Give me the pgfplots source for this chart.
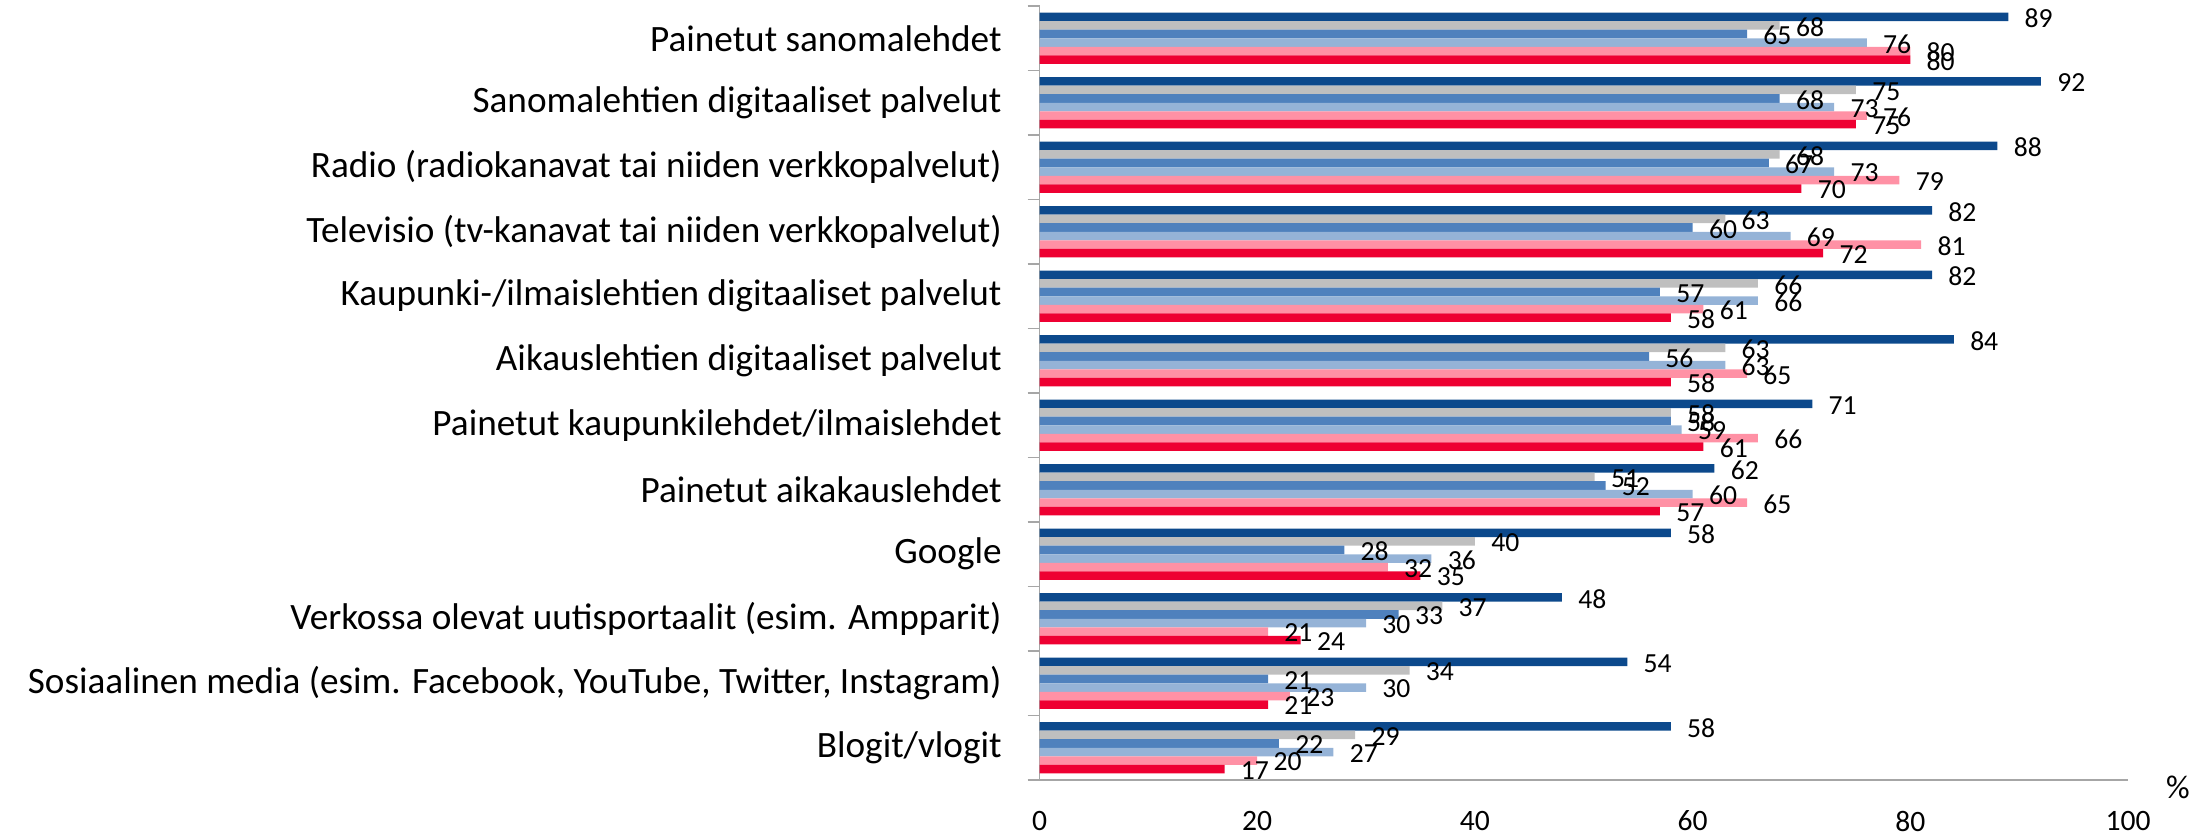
\documentclass[border=0pt]{standalone}
\usepackage{pgfplots}
\usepackage{pgfplotstable}
\pgfplotsset{compat=1.18}
\usepackage{fontspec}
\setmainfont{Carlito}
\definecolor{cDark}{RGB}{12,73,140}
\definecolor{cGray}{RGB}{191,191,191}
\definecolor{cMed}{RGB}{79,129,189}
\definecolor{cLight}{RGB}{149,179,215}
\definecolor{cPink}{RGB}{255,145,165}
\definecolor{cRed}{RGB}{238,0,50}
\pgfplotstableread{
y s0 s1 s2 s3 s4 s5
11 89 68 65 76 80 80
10 92 75 68 73 76 75
9 88 68 67 73 79 70
8 82 63 60 69 81 72
7 82 66 57 66 61 58
6 84 63 56 63 65 58
5 71 58 58 59 66 61
4 62 51 52 60 65 57
3 58 40 28 36 32 35
2 48 37 33 30 21 24
1 54 34 21 30 23 21
0 58 29 22 27 20 17
}\datatable
\begin{document}
\begin{tikzpicture}
\useasboundingbox (0,0) rectangle (1105pt,418.5pt);
\begin{axis}[
  at={(519.75pt,28.5pt)}, anchor=south west,
  scale only axis, width=544.25pt, height=387pt,
  xbar, bar width=0.132,
  xmin=0, xmax=100, ymin=-0.5, ymax=11.5,
  enlargelimits=false,
  axis lines*=left,
  axis line style={draw=black!35, line width=0.8pt, -},
  /pgf/number format/assume math mode=true,
  xtick={0,20,...,100},
  ytick={0,...,11},
  minor ytick={-0.5,0.5,...,11.5},
  major tick length=0pt,
  minor tick length=6pt,
  tick align=outside,
  xtick style={draw=none},
  ytick style={draw=black!35, line width=0.8pt},
  yticklabels={Blogit/vlogit,
    {Sosiaalinen media (esim. Facebook, YouTube, Twitter, Instagram)},
    {Verkossa olevat uutisportaalit (esim. Ampparit)},
    Google,
    Painetut aikakauslehdet,
    Painetut kaupunkilehdet/ilmaislehdet,
    Aikauslehtien digitaaliset palvelut,
    Kaupunki-/ilmaislehtien digitaaliset palvelut,
    Televisio (tv-kanavat tai niiden verkkopalvelut),
    Radio (radiokanavat tai niiden verkkopalvelut),
    Sanomalehtien digitaaliset palvelut,
    Painetut sanomalehdet},
  yticklabel style={anchor=east, inner sep=0pt, xshift=-18.75pt,
    font=\fontsize{18.6}{21}\selectfont},
  xticklabel style={anchor=center, inner sep=0pt, yshift=-20.5pt,
    font=\fontsize{14.8}{16}\selectfont},
  every node near coord/.append style={anchor=west, inner sep=0pt, xshift=8pt, yshift=-0.7pt,
    font=\fontsize{13.8}{15}\selectfont, text=black},
  clip=false,
]
\addplot[fill=cDark, draw=none, bar shift=0.33] table[x=s0,y=y]{\datatable};
\addplot[fill=cGray, draw=none, bar shift=0.198] table[x=s1,y=y]{\datatable};
\addplot[fill=cMed, draw=none, bar shift=0.066] table[x=s2,y=y]{\datatable};
\addplot[fill=cLight, draw=none, bar shift=-0.066] table[x=s3,y=y]{\datatable};
\addplot[fill=cPink, draw=none, bar shift=-0.198] table[x=s4,y=y]{\datatable};
\addplot[fill=cRed, draw=none, bar shift=-0.33] table[x=s5,y=y]{\datatable};
\addplot[draw=none, fill=none, bar shift=0.33, nodes near coords, forget plot] table[x=s0,y=y]{\datatable};
\addplot[draw=none, fill=none, bar shift=0.198, nodes near coords, forget plot] table[x=s1,y=y]{\datatable};
\addplot[draw=none, fill=none, bar shift=0.066, nodes near coords, forget plot] table[x=s2,y=y]{\datatable};
\addplot[draw=none, fill=none, bar shift=-0.066, nodes near coords, forget plot] table[x=s3,y=y]{\datatable};
\addplot[draw=none, fill=none, bar shift=-0.198, nodes near coords, forget plot] table[x=s4,y=y]{\datatable};
\addplot[draw=none, fill=none, bar shift=-0.33, nodes near coords, forget plot] table[x=s5,y=y]{\datatable};
\end{axis}
\node[font=\fontsize{16.5}{18}\selectfont, inner sep=0pt] at (1089pt,25pt) {\%};
\end{tikzpicture}
\end{document}
